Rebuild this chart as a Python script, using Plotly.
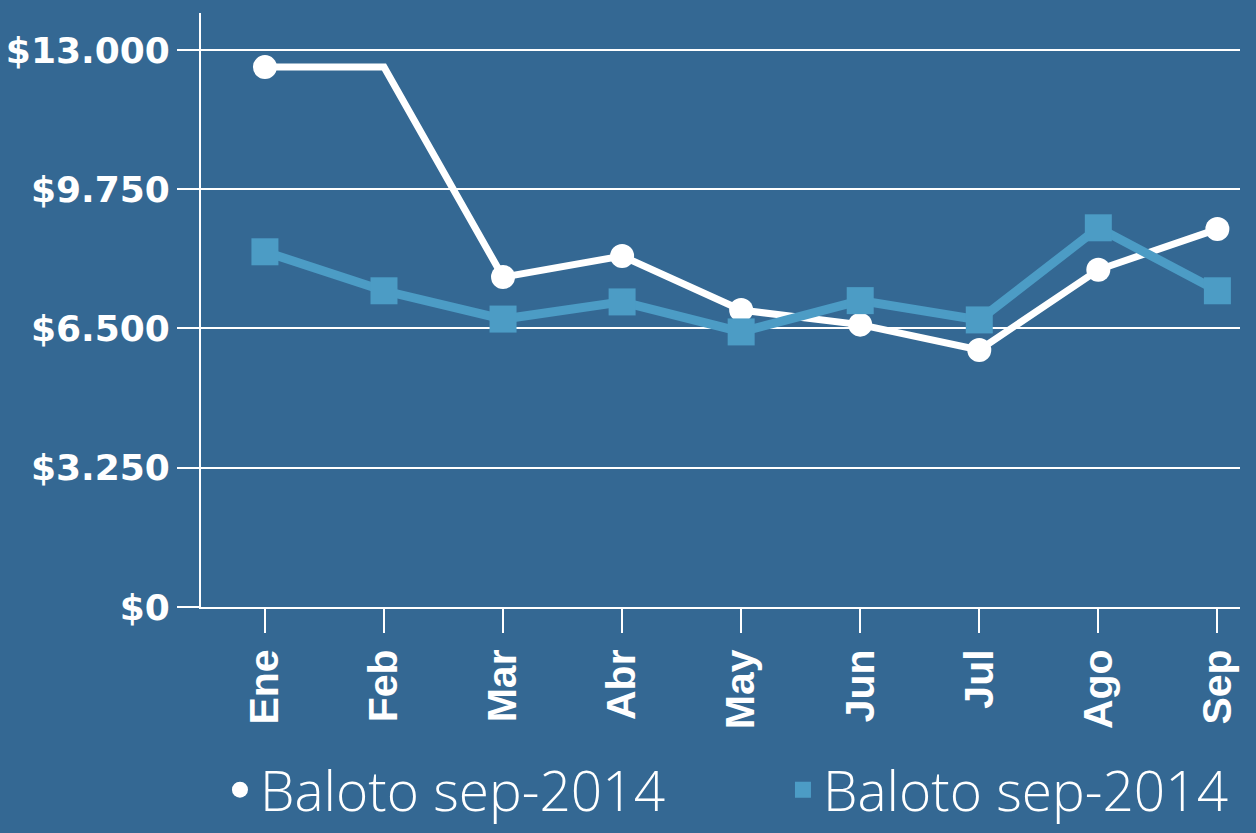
import plotly.graph_objects as go

months = ["Ene", "Feb", "Mar", "Abr", "May", "Jun", "Jul", "Ago", "Sep"]
serie_circulo = [12600, 12600, 7700, 8190, 6930, 6590, 6000, 7870, 8820]
serie_cuadro = [8290, 7380, 6720, 7120, 6420, 7150, 6700, 8850, 7380]
nombre_a = "Baloto sep-2014"
nombre_b = "Baloto sep-2014"
y_ticks = [0, 3250, 6500, 9750, 13000]
y_tick_text = ["$0", "$3.250", "$6.500", "$9.750", "$13.000"]

BG = "#346893"
BLUE = "#4c9cc5"
x_idx = list(range(len(months)))

fig = go.Figure()
fig.add_trace(go.Scatter(
    x=x_idx, y=serie_circulo, name=nombre_a, mode="lines+markers", showlegend=False,
    line=dict(color="white", width=7),
    marker=dict(symbol="circle", color="white", opacity=1, line=dict(width=0),
                size=[24 if i != 1 else 0 for i in x_idx]),
))
fig.add_trace(go.Scatter(
    x=x_idx, y=serie_cuadro, name=nombre_b, mode="lines+markers", showlegend=False,
    line=dict(color=BLUE, width=9),
    marker=dict(symbol="square", color=BLUE, size=27, opacity=1, line=dict(width=0)),
))
# legend-only entries (marker only, as in the original)
fig.add_trace(go.Scatter(x=[None], y=[None], name=nombre_a, mode="markers",
                         marker=dict(symbol="circle", color="white", size=22)))
fig.add_trace(go.Scatter(x=[None], y=[None], name=nombre_b, mode="markers",
                         marker=dict(symbol="square", color=BLUE, size=22)))

fig.update_layout(
    width=1256, height=833,
    paper_bgcolor=BG, plot_bgcolor=BG,
    margin=dict(l=201, r=16, t=13, b=226, autoexpand=False),
    showlegend=True,
    legend=dict(orientation="h", x=-0.001, xanchor="left", indentation=20,
                y=-0.308, yanchor="middle",
                font=dict(family="Open Sans", size=55, color="white", weight=300),
                itemsizing="trace", entrywidth=498, entrywidthmode="pixels",
                bgcolor="rgba(0,0,0,0)"),
    xaxis=dict(
        range=[-0.537, 8.19], tickmode="array", tickvals=x_idx, ticktext=months,
        tickangle=-90, showgrid=False, zeroline=False, automargin=False,
        showline=True, linecolor="white", linewidth=2,
        ticks="outside", ticklen=24, tickwidth=2, tickcolor="white",
        tickfont=dict(family="Liberation Sans", size=41, color="white", weight="bold"),
    ),
    yaxis=dict(
        range=[0, 13863], tickmode="array", tickvals=y_ticks, ticktext=y_tick_text,
        showgrid=True, gridcolor="white", gridwidth=2, zeroline=False, automargin=False,
        showline=True, linecolor="white", linewidth=2,
        ticks="outside", ticklen=22, tickwidth=2, tickcolor="white",
        tickfont=dict(family="DejaVu Sans", size=36, color="white", weight="bold"),
    ),
)

fig.write_html("out.html", config={"displayModeBar": False},
               post_script="document.body.style.margin='0';document.body.style.overflow='hidden';")
